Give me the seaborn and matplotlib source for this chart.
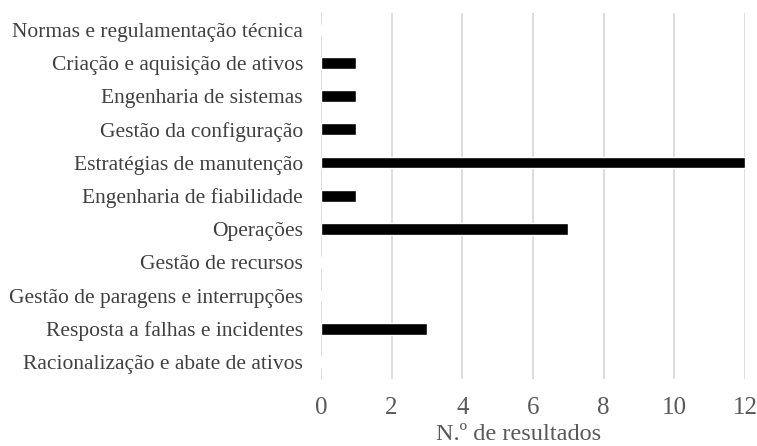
import matplotlib
matplotlib.use("Agg")
import matplotlib.pyplot as plt
import seaborn as sns
import pandas as pd

categories = [
    "Normas e regulamentação técnica",
    "Criação e aquisição de ativos",
    "Engenharia de sistemas",
    "Gestão da configuração",
    "Estratégias de manutenção",
    "Engenharia de fiabilidade",
    "Operações",
    "Gestão de recursos",
    "Gestão de paragens e interrupções",
    "Resposta a falhas e incidentes",
    "Racionalização e abate de ativos",
]
values = [0, 1, 1, 1, 12, 1, 7, 0, 0, 3, 0]
xticks = [0, 2, 4, 6, 8, 10, 12]

df = pd.DataFrame({"cat": categories, "val": values})

sns.set_style("white")
plt.rcParams["font.family"] = ["Liberation Serif", "DejaVu Serif"]

fig = plt.figure(figsize=(7.57, 4.46), dpi=100)
ax = fig.add_axes([0.424, 0.151, 0.560, 0.820])
sns.barplot(data=df, x="val", y="cat", orient="h", color="black",
            width=0.35, ax=ax, saturation=1)
ax.set_xlim(0, 12)
ax.set_xticks(xticks)
ax.set_xticklabels([str(t) for t in xticks])
ax.xaxis.grid(True, color="#d9d9d9", linewidth=1.3)
ax.set_axisbelow(True)
for s in ax.spines.values():
    s.set_visible(False)
ax.tick_params(axis="x", length=0, labelsize=18, colors="#595959", pad=13)
ax.tick_params(axis="y", length=0, labelsize=15.5, colors="#404040", pad=13)
ax.set_ylabel("")
ax.set_xlabel("N.º de resultados", fontsize=17.5, color="#595959")
ax.xaxis.set_label_coords(0.465, -0.124)
fig.savefig("out.png", dpi=100)
